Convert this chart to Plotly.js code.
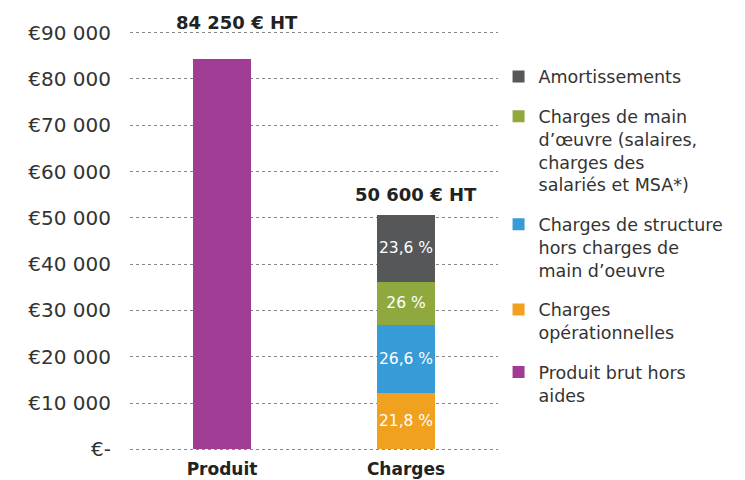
<!DOCTYPE html>
<html><head><meta charset="utf-8">
<script src="https://cdn.plot.ly/plotly-3.0.1.min.js"></script>
<style>html,body{margin:0;padding:0;background:#fff}</style>
</head><body>
<div id="chart" style="width:745px;height:480px"></div>
<script>
const categories = ['Produit', 'Charges'];
const produitValue = [84250];
const chargeNames = ['Charges<br>opérationnelles', 'Charges de structure<br>hors charges de<br>main d’oeuvre', 'Charges de main<br>d’œuvre (salaires,<br>charges des<br>salariés et MSA*)', 'Amortissements'];
const chargeValues = [12200, 14650, 9350, 14400];
const chargeLabels = ['21,8 %', '26,6 %', '26 %', '23,6 %'];
const chargeColors = ['#F0A11E', '#369BD7', '#90A93F', '#555759'];
const produitName = 'Produit brut hors<br>aides';
const totalLabels = ['84 250 € HT', '50 600 € HT'];
const totals = [84250, 50600];
const yTickVals = [0, 10000, 20000, 30000, 40000, 50000, 60000, 70000, 80000, 90000];
const yTickText = ['€-', '€10 000', '€20 000', '€30 000', '€40 000', '€50 000', '€60 000', '€70 000', '€80 000', '€90 000'];

const FONT = 'DejaVu Sans, sans-serif';
const traces = [{
  type: 'bar', x: [categories[0]], y: produitValue, name: produitName,
  marker: {color: '#A03C93'}, width: 0.32, legendgroup: 'p', legendrank: 5, hoverinfo: 'none'
}];
chargeValues.forEach((v, i) => {
  traces.push({
    type: 'bar', x: [categories[1]], y: [v], name: chargeNames[i],
    marker: {color: chargeColors[i]}, width: 0.32, legendgroup: 'g' + i, legendrank: 4 - i,
    text: [chargeLabels[i]], textposition: 'inside', insidetextanchor: 'middle', textangle: 0,
    constraintext: 'none', textfont: {color: '#ffffff', size: 15.5, family: FONT},
    hoverinfo: 'none'
  });
});

const annotations = totals.map((t, i) => ({
  x: categories[i], y: t, xref: 'x', yref: 'y', text: totalLabels[i],
  showarrow: false, yanchor: 'bottom', xshift: i === 0 ? 15 : 10, yshift: i === 0 ? 24 : 8,
  font: {family: FONT, size: 18, color: '#222', weight: 'bold'}
}));

const layout = {
  width: 745, height: 480,
  margin: {l: 130, r: 247, t: 28, b: 26},
  barmode: 'stack',
  paper_bgcolor: '#fff', plot_bgcolor: '#fff',
  showlegend: true,
  legend: {
    x: 1.0015, y: 0.928, xanchor: 'left', yanchor: 'top',
    traceorder: 'grouped', tracegroupgap: 14,
    font: {family: FONT, size: 17.5, color: '#333'}, valign: 'top'
  },
  xaxis: {
    type: 'category', categoryarray: categories, range: [-0.5, 1.5],
    showgrid: false, zeroline: false, showline: false, ticks: '',
    tickfont: {family: FONT, size: 17, color: '#222', weight: 'bold'},
    ticklabelstandoff: 3
  },
  yaxis: {
    range: [-1000, 91000], tickvals: yTickVals, ticktext: yTickText,
    showgrid: true, gridcolor: '#888', griddash: 'dot', gridwidth: 1,
    zeroline: false, showline: false, ticks: '',
    tickfont: {family: FONT, size: 20, color: '#333'},
    ticklabelstandoff: 18
  },
  annotations: annotations,
  font: {family: FONT}
};
Plotly.newPlot('chart', traces, layout, {displayModeBar: false, staticPlot: true});
</script>
</body></html>
